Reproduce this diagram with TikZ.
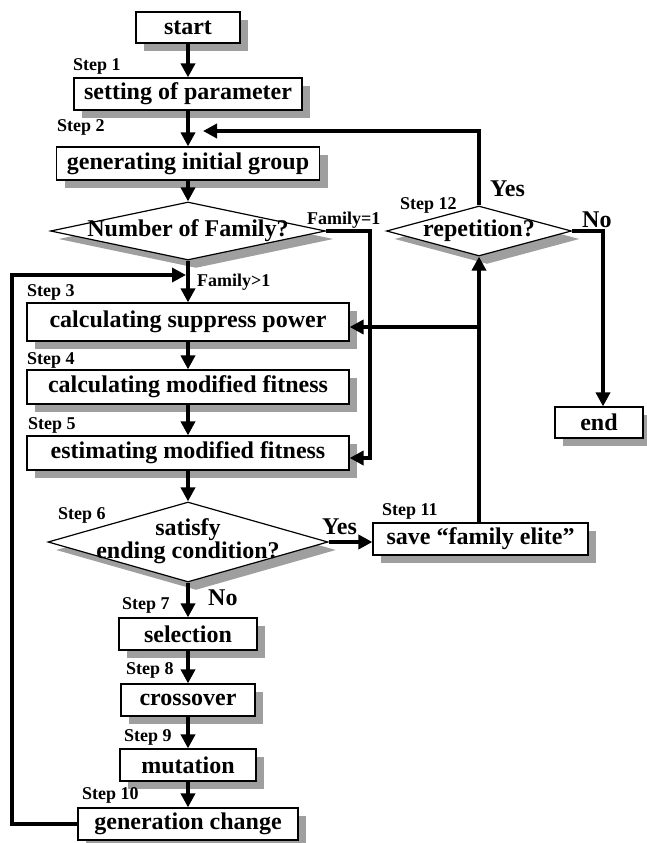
\documentclass[tikz,border=0pt]{standalone}
\usepackage{fontspec}
\setmainfont{Liberation Serif}
\usetikzlibrary{shapes.geometric,shadows,arrows.meta}
\tikzset{
  box/.style={draw,line width=1.2pt,fill=white,inner sep=0pt,font=\bfseries\fontsize{24}{26}\selectfont,
    drop shadow={shadow xshift=8pt,shadow yshift=-8pt,fill=gray!75,opacity=1}},
  dia/.style={diamond,draw,line width=1.2pt,fill=white,inner sep=0pt,
    drop shadow={shadow xshift=8pt,shadow yshift=-8pt,fill=gray!75,opacity=1}},
  txt/.style={font=\bfseries\fontsize{24}{16}\selectfont,inner sep=0pt,align=center},
  steplbl/.style={font=\bfseries\fontsize{18}{20}\selectfont,inner sep=0pt,anchor=west},
  flow/.style={line width=3.5pt,-{Triangle[length=14pt,width=14pt]}}
}
\begin{document}
\begin{tikzpicture}[x=1pt,y=-1pt]
                  \useasboundingbox (0,0) rectangle (646,843);
                  \node[box,minimum width=104pt,minimum height=31pt] (start) at (188,27.5) {start};
                  \node[box,minimum width=228pt,minimum height=32pt] (param) at (188,94) {setting of parameter};
                  \node[box,minimum width=263pt,minimum height=33pt] (init) at (188,163.5) {generating initial group};
                  \node[dia,minimum width=275pt,minimum height=58pt] (family) at (188,231) {};
                  \node[txt] (familytxt) at (family) {Number of Family?};
                  \node[box,minimum width=322pt,minimum height=38pt] (suppress) at (188,322) {calculating suppress power};
                  \node[box,minimum width=322pt,minimum height=34pt] (modfit) at (188,387) {calculating modified fitness};
                  \node[box,minimum width=322pt,minimum height=34pt] (estfit) at (188,453) {estimating modified fitness};
                  \node[dia,minimum width=280pt,minimum height=80pt] (cond) at (188,542) {};
                  \node[txt] (condtxt) at (188,541) {satisfy\\ending condition?};
                  \node[box,minimum width=138pt,minimum height=32pt] (select) at (188,634) {selection};
                  \node[box,minimum width=134pt,minimum height=32pt] (cross) at (188,700) {crossover};
                  \node[box,minimum width=136pt,minimum height=32pt] (mutate) at (188,765) {mutation};
                  \node[box,minimum width=220pt,minimum height=32pt] (gener) at (188,824) {generation change};
                  \node[box,minimum width=215pt,minimum height=32pt] (elite) at (480.5,539) {save “family elite”};
                  \node[dia,minimum width=185pt,minimum height=50pt] (again) at (479,231) {};
                  \node[txt] (againtxt) at (again) {repetition?};
                  \node[box,minimum width=88pt,minimum height=31pt] (finish) at (599,422.5) {end};
                  \node[steplbl] (s1) at (73,66) {Step 1};
                  \node[steplbl] (s2) at (57,127) {Step 2};
                  \node[steplbl] (s3) at (27,292) {Step 3};
                  \node[steplbl] (s4) at (27,360) {Step 4};
                  \node[steplbl] (s5) at (28,425) {Step 5};
                  \node[steplbl] (s6) at (58,515) {Step 6};
                  \node[steplbl] (s7) at (122,605) {Step 7};
                  \node[steplbl] (s8) at (126,670) {Step 8};
                  \node[steplbl] (s9) at (124,737) {Step 9};
                  \node[steplbl] (s10) at (82,795) {Step 10};
                  \node[steplbl] (s11) at (382,511) {Step 11};
                  \node[steplbl] (s12) at (400,205) {Step 12};
                  \node[steplbl] (fam1) at (307,220) {Family=1};
                  \node[steplbl] (fammore) at (197,282) {Family>1};
                  \node[txt,anchor=west] (yes1) at (490,189) {Yes};
                  \node[txt,anchor=west] (no1) at (582,220) {No};
                  \node[txt,anchor=west] (yes2) at (322,527) {Yes};
                  \node[txt,anchor=west] (no2) at (208,598) {No};
                  \coordinate (famcorner) at (370,458);
                  \coordinate (loopcorner) at (12,275);
                  \coordinate (loopin) at (186,275);
                  \coordinate (branch) at (479,327);
                  \coordinate (backin) at (203,131);
                  \coordinate (nocorner) at (603,231);
                  \draw[flow] (start) -- (param);
                  \draw[flow] (param) -- (init);
                  \draw[flow] (init) -- (family);
                  \draw[flow] (family) -- (suppress);
                  \draw[flow] (family.east) -| (famcorner) -- (famcorner -| estfit.east);
                  \draw[flow] (suppress) -- (modfit);
                  \draw[flow] (modfit) -- (estfit);
                  \draw[flow] (estfit) -- (cond);
                  \draw[flow] (cond.east) -- (cond.east -| elite.west);
                  \draw[flow] (cond) -- (select);
                  \draw[flow] (select) -- (cross);
                  \draw[flow] (cross) -- (mutate);
                  \draw[flow] (mutate) -- (gener);
                  \draw[flow] (gener.west) -| (loopcorner) -- (loopin);
                  \draw[flow] (again.south |- elite.north) -- (again.south);
                  \draw[flow] (branch) -- (branch -| suppress.east);
                  \draw[flow] (again.north) |- (backin);
                  \draw[flow] (again.east) -- (nocorner) -- (nocorner |- finish.north);
              \end{tikzpicture}
\end{document}
